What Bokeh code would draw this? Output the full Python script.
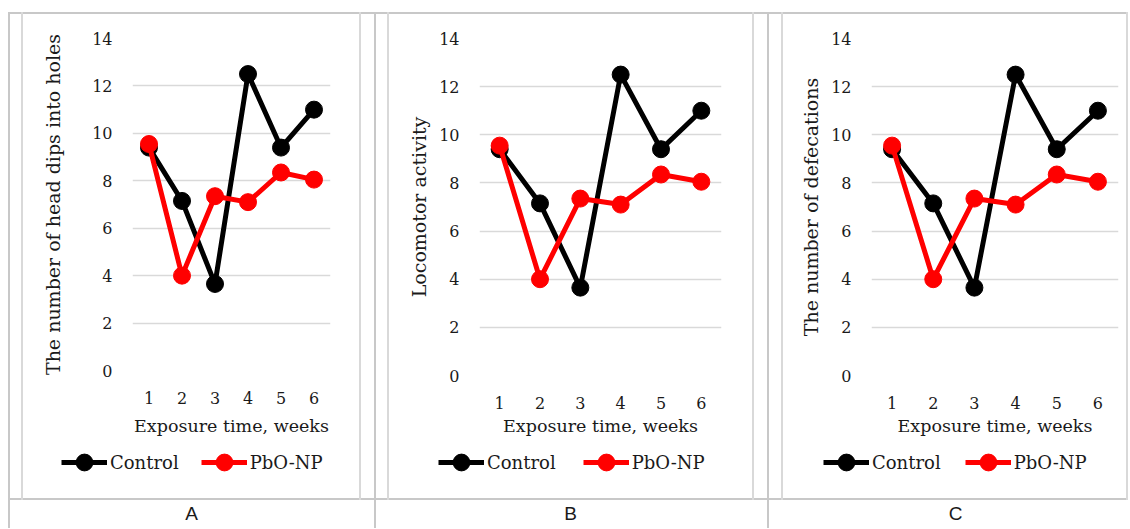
from bokeh.plotting import figure
from bokeh.layouts import row, column
from bokeh.models import Range1d, FixedTicker, Legend, LegendItem, Label
from bokeh.embed import file_html
from bokeh.resources import INLINE

# ---- data ----
weeks = [1, 2, 3, 4, 5, 6]
control = [9.4, 7.15, 3.65, 12.5, 9.4, 11.0]
pbo_np = [9.55, 4.0, 7.35, 7.1, 8.35, 8.05]
y_ticks = [0, 2, 4, 6, 8, 10, 12, 14]
series_names = ["Control", "PbO-NP"]
series_colors = ["black", "red"]
panel_letters = ["A", "B", "C"]
y_titles = ["The number of head dips into holes", "Locomotor activity", "The number of defecations"]
x_title = "Exposure time, weeks"

# ---- layout (pixels) ----
H_TOP = 440          # chart part
H_BOT = 88           # legend + letter part
FRAME_TOP = 38
TABLE_TOP = 12
ROW_DIV = 498
panels = [
    dict(w=374, fl=132, fw=198, fb=370, tbl_x=8, box=(21, 359), ylab_so=25, xlab_so=9,
         leg_x=61, spacing=22, let_x=191),
    dict(w=393, fl=105, fw=242, fb=375, tbl_x=0, box=(13, 378), ylab_so=6, xlab_so=4,
         leg_x=64, spacing=27, let_x=196),
    dict(w=361, fl=104, fw=247, fb=375, tbl_x=0, box=(14, 359), ylab_so=6, xlab_so=4,
         leg_x=56, spacing=24, let_x=188),
]

FONT = "DejaVu Serif"
TXT = "#1a1a1a"
GRID = "#d9d9d9"
TABLE = "#c8c8c8"


def css_lines(segments):
    imgs, pos, size = [], [], []
    for (x, y, w, h, c) in segments:
        imgs.append("linear-gradient(%s, %s)" % (c, c))
        pos.append("%dpx %dpx" % (x, y))
        size.append("%dpx %dpx" % (w, h))
    return {"background-image": ", ".join(imgs),
            "background-position": ", ".join(pos),
            "background-size": ", ".join(size),
            "background-repeat": "no-repeat",
            "background-color": "white"}


def make_chart(i, cfg):
    w = cfg["w"]
    tx = cfg["tbl_x"]
    bl, br = cfg["box"]
    segs = [
        (bl, TABLE_TOP, 2, H_TOP - TABLE_TOP, GRID),
        (br, TABLE_TOP, 2, H_TOP - TABLE_TOP, GRID),
        (tx, TABLE_TOP, 2, H_TOP - TABLE_TOP, TABLE),
        (tx, TABLE_TOP, w - tx, 2, TABLE),
    ]
    p = figure(width=w, height=H_TOP, output_backend="svg", toolbar_location=None,
               x_range=Range1d(0.5, 6.5), y_range=Range1d(0, 14),
               min_border_left=cfg["fl"], min_border_right=w - cfg["fl"] - cfg["fw"],
               min_border_top=FRAME_TOP, min_border_bottom=H_TOP - cfg["fb"],
               styles=css_lines(segs))
    p.outline_line_color = None
    p.background_fill_color = None
    p.border_fill_color = None

    p.xgrid.visible = False
    p.ygrid.grid_line_color = GRID
    p.ygrid.grid_line_width = 1.5

    p.xaxis.ticker = FixedTicker(ticks=weeks)
    p.yaxis.ticker = FixedTicker(ticks=y_ticks)
    for ax in (p.xaxis, p.yaxis):
        ax.axis_line_color = None
        ax.major_tick_line_color = None
        ax.minor_tick_line_color = None
        ax.major_tick_out = 0
        ax.major_tick_in = 0
        ax.major_label_text_font = FONT
        ax.major_label_text_font_size = "16px"
        ax.major_label_text_color = TXT
        ax.axis_label_text_font = FONT
        ax.axis_label_text_font_style = "normal"
        ax.axis_label_text_color = TXT
    p.yaxis.axis_label_text_font_size = "19px"
    p.xaxis.axis_label_text_font_size = "17.5px"
    p.yaxis.major_label_standoff = 20
    p.xaxis.major_label_standoff = 21
    p.yaxis.axis_label = y_titles[i]
    p.xaxis.axis_label = x_title
    p.yaxis.axis_label_standoff = cfg["ylab_so"]
    p.xaxis.axis_label_standoff = cfg["xlab_so"]

    for vals, col in zip([control, pbo_np], series_colors):
        p.line(weeks, vals, line_color=col, line_width=5)
        p.scatter(weeks, vals, size=17, fill_color=col, line_color=col)
    return p


def make_footer(i, cfg):
    w = cfg["w"]
    tx = cfg["tbl_x"]
    bl, br = cfg["box"]
    div_y = ROW_DIV - H_TOP
    segs = [
        (bl, 0, 2, div_y + 2, GRID),
        (br, 0, 2, div_y + 2, GRID),
        (tx, 0, 2, H_BOT, TABLE),
        (tx, div_y, w - tx, 2, TABLE),
    ]
    p = figure(width=w, height=H_BOT, output_backend="svg", toolbar_location=None,
               x_range=Range1d(0, w), y_range=Range1d(0, H_BOT), min_border=0,
               x_axis_location=None, y_axis_location=None, styles=css_lines(segs))
    p.outline_line_color = None
    p.background_fill_color = None
    p.border_fill_color = None
    p.grid.visible = False

    # legend-only renderers (hidden in this panel; their glyph styles feed the legend)
    items = []
    for name, vals, col in zip(series_names, [control, pbo_np], series_colors):
        lr = p.line(weeks, vals, line_color=col, line_width=5, visible=False)
        sr = p.scatter(weeks, vals, size=17, fill_color=col, line_color=col, visible=False)
        items.append(LegendItem(label=name, renderers=[lr, sr]))
    legend = Legend(items=items, location=(cfg["leg_x"], H_BOT - 43), orientation="horizontal",
                    glyph_width=46, glyph_height=42, label_standoff=3, spacing=cfg["spacing"],
                    padding=0, margin=0, border_line_color=None, background_fill_alpha=0,
                    inactive_fill_alpha=0, click_policy="none",
                    label_text_font=FONT, label_text_font_size="18px", label_text_color=TXT)
    p.add_layout(legend, "center")

    p.add_layout(Label(x=cfg["let_x"], y=15.5, text=panel_letters[i], text_align="center",
                       text_baseline="alphabetic", text_font="Liberation Sans",
                       text_font_size="19px", text_color=TXT))
    return p


charts = [make_chart(i, cfg) for i, cfg in enumerate(panels)]
footers = [make_footer(i, cfg) for i, cfg in enumerate(panels)]
layout = column(row(*[column(c) for c in charts], spacing=0),
                row(*footers, spacing=0), spacing=0)
open("out.html", "w").write(file_html(layout, INLINE))
